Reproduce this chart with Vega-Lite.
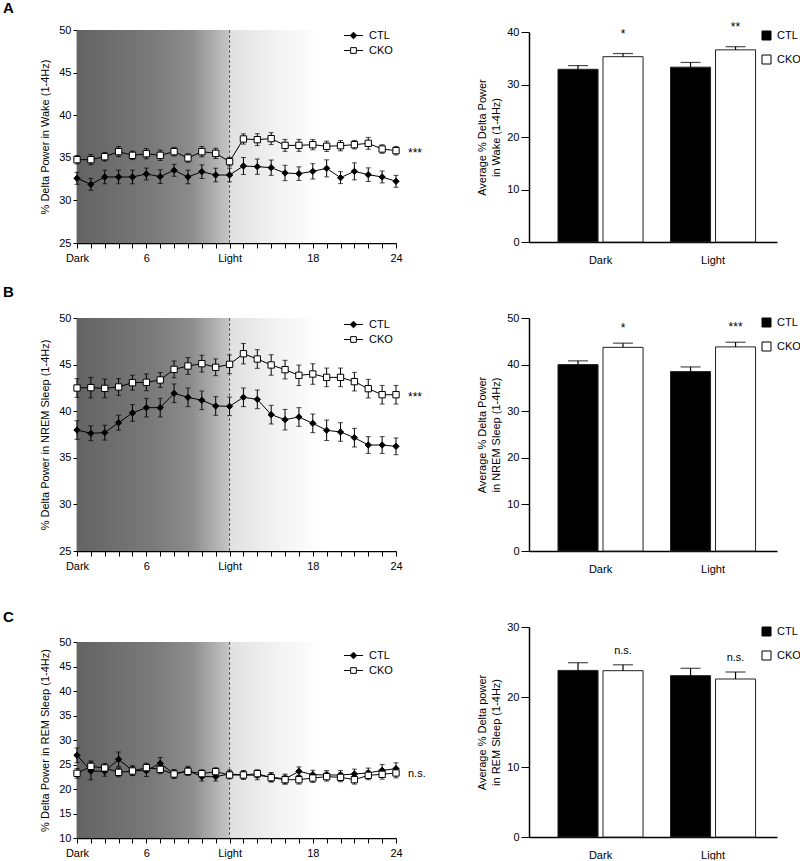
{
  "$schema": "https://vega.github.io/schema/vega-lite/v6.json",
  "padding": {"left": 3, "top": 1, "right": 0, "bottom": 0},
  "background": "white",
  "config": {
    "font": "Liberation Sans",
    "view": {"stroke": null},
    "axis": {"domainColor": "black", "tickColor": "black", "labelColor": "black", "titleColor": "black", "labelFont": "Liberation Sans", "titleFont": "Liberation Sans", "labelFontSize": 11, "titleFontSize": 11, "titleFontWeight": "normal", "grid": false, "domainWidth": 1.5, "tickWidth": 1},
    "legend": {"labelFont": "Liberation Sans", "labelFontSize": 11, "labelColor": "black", "padding": 0},
    "title": {"font": "Liberation Sans", "color": "black"}
  },
  "datasets": {
    "dark": [{"h": 1, "h2": 12}],
    "light": [{"h": 12, "h2": 24}],
    "wake": [
      {"h":1,"g":"CTL","m":32.59,"e":0.7},{"h":2,"g":"CTL","m":31.89,"e":0.7},{"h":3,"g":"CTL","m":32.75,"e":0.8},{"h":4,"g":"CTL","m":32.75,"e":0.8},{"h":5,"g":"CTL","m":32.75,"e":0.8},{"h":6,"g":"CTL","m":33.10,"e":0.7},{"h":7,"g":"CTL","m":32.79,"e":0.8},{"h":8,"g":"CTL","m":33.53,"e":0.7},{"h":9,"g":"CTL","m":32.75,"e":0.8},{"h":10,"g":"CTL","m":33.37,"e":0.8},{"h":11,"g":"CTL","m":32.98,"e":0.8},{"h":12,"g":"CTL","m":32.98,"e":0.8},
      {"h":13,"g":"CTL","m":34.04,"e":1.0},{"h":14,"g":"CTL","m":33.96,"e":0.9},{"h":15,"g":"CTL","m":33.84,"e":0.9},{"h":16,"g":"CTL","m":33.22,"e":0.9},{"h":17,"g":"CTL","m":33.14,"e":0.8},{"h":18,"g":"CTL","m":33.41,"e":0.9},{"h":19,"g":"CTL","m":33.76,"e":1.0},{"h":20,"g":"CTL","m":32.67,"e":0.7},{"h":21,"g":"CTL","m":33.41,"e":1.0},{"h":22,"g":"CTL","m":33.02,"e":0.8},{"h":23,"g":"CTL","m":32.75,"e":0.7},{"h":24,"g":"CTL","m":32.24,"e":0.7},
      {"h":1,"g":"CKO","m":34.78,"e":0.5},{"h":2,"g":"CKO","m":34.78,"e":0.6},{"h":3,"g":"CKO","m":35.13,"e":0.5},{"h":4,"g":"CKO","m":35.72,"e":0.6},{"h":5,"g":"CKO","m":35.29,"e":0.5},{"h":6,"g":"CKO","m":35.48,"e":0.6},{"h":7,"g":"CKO","m":35.29,"e":0.6},{"h":8,"g":"CKO","m":35.72,"e":0.5},{"h":9,"g":"CKO","m":34.98,"e":0.5},{"h":10,"g":"CKO","m":35.72,"e":0.6},{"h":11,"g":"CKO","m":35.52,"e":0.6},{"h":12,"g":"CKO","m":34.55,"e":0.5},
      {"h":13,"g":"CKO","m":37.21,"e":0.6},{"h":14,"g":"CKO","m":37.13,"e":0.7},{"h":15,"g":"CKO","m":37.25,"e":0.7},{"h":16,"g":"CKO","m":36.46,"e":0.7},{"h":17,"g":"CKO","m":36.46,"e":0.7},{"h":18,"g":"CKO","m":36.54,"e":0.6},{"h":19,"g":"CKO","m":36.35,"e":0.6},{"h":20,"g":"CKO","m":36.42,"e":0.6},{"h":21,"g":"CKO","m":36.54,"e":0.5},{"h":22,"g":"CKO","m":36.70,"e":0.7},{"h":23,"g":"CKO","m":36.03,"e":0.5},{"h":24,"g":"CKO","m":35.84,"e":0.5}
    ],
    "nrem": [
      {"h":1,"g":"CTL","m":37.98,"e":1.0},{"h":2,"g":"CTL","m":37.63,"e":0.8},{"h":3,"g":"CTL","m":37.70,"e":0.8},{"h":4,"g":"CTL","m":38.77,"e":0.8},{"h":5,"g":"CTL","m":39.81,"e":0.9},{"h":6,"g":"CTL","m":40.38,"e":1.0},{"h":7,"g":"CTL","m":40.38,"e":1.0},{"h":8,"g":"CTL","m":41.92,"e":1.0},{"h":9,"g":"CTL","m":41.49,"e":1.0},{"h":10,"g":"CTL","m":41.17,"e":1.0},{"h":11,"g":"CTL","m":40.56,"e":1.0},{"h":12,"g":"CTL","m":40.52,"e":1.0},
      {"h":13,"g":"CTL","m":41.49,"e":1.0},{"h":14,"g":"CTL","m":41.27,"e":1.0},{"h":15,"g":"CTL","m":39.63,"e":1.0},{"h":16,"g":"CTL","m":39.09,"e":1.1},{"h":17,"g":"CTL","m":39.38,"e":1.0},{"h":18,"g":"CTL","m":38.70,"e":1.0},{"h":19,"g":"CTL","m":37.95,"e":1.1},{"h":20,"g":"CTL","m":37.77,"e":1.0},{"h":21,"g":"CTL","m":37.16,"e":1.0},{"h":22,"g":"CTL","m":36.37,"e":0.9},{"h":23,"g":"CTL","m":36.37,"e":0.9},{"h":24,"g":"CTL","m":36.23,"e":0.9},
      {"h":1,"g":"CKO","m":42.49,"e":1.0},{"h":2,"g":"CKO","m":42.53,"e":1.1},{"h":3,"g":"CKO","m":42.45,"e":1.0},{"h":4,"g":"CKO","m":42.60,"e":0.9},{"h":5,"g":"CKO","m":43.06,"e":0.8},{"h":6,"g":"CKO","m":43.10,"e":0.9},{"h":7,"g":"CKO","m":43.35,"e":0.8},{"h":8,"g":"CKO","m":44.49,"e":0.9},{"h":9,"g":"CKO","m":44.85,"e":0.9},{"h":10,"g":"CKO","m":45.10,"e":0.9},{"h":11,"g":"CKO","m":44.71,"e":0.9},{"h":12,"g":"CKO","m":45.03,"e":1.0},
      {"h":13,"g":"CKO","m":46.17,"e":1.1},{"h":14,"g":"CKO","m":45.60,"e":1.0},{"h":15,"g":"CKO","m":44.96,"e":1.1},{"h":16,"g":"CKO","m":44.46,"e":1.0},{"h":17,"g":"CKO","m":43.85,"e":1.1},{"h":18,"g":"CKO","m":43.99,"e":1.1},{"h":19,"g":"CKO","m":43.63,"e":1.0},{"h":20,"g":"CKO","m":43.63,"e":1.0},{"h":21,"g":"CKO","m":43.17,"e":1.0},{"h":22,"g":"CKO","m":42.42,"e":1.0},{"h":23,"g":"CKO","m":41.77,"e":1.0},{"h":24,"g":"CKO","m":41.77,"e":1.0}
    ],
    "rem": [
      {"h":1,"g":"CTL","m":26.87,"e":1.5},{"h":2,"g":"CTL","m":23.67,"e":1.8},{"h":3,"g":"CTL","m":23.61,"e":1.0},{"h":4,"g":"CTL","m":26.05,"e":1.5},{"h":5,"g":"CTL","m":23.74,"e":1.0},{"h":6,"g":"CTL","m":23.74,"e":1.2},{"h":7,"g":"CTL","m":25.24,"e":1.2},{"h":8,"g":"CTL","m":23.06,"e":0.9},{"h":9,"g":"CTL","m":23.74,"e":0.9},{"h":10,"g":"CTL","m":22.52,"e":0.9},{"h":11,"g":"CTL","m":22.52,"e":0.9},{"h":12,"g":"CTL","m":23.06,"e":0.8},
      {"h":13,"g":"CTL","m":22.86,"e":0.8},{"h":14,"g":"CTL","m":22.79,"e":0.9},{"h":15,"g":"CTL","m":22.45,"e":0.9},{"h":16,"g":"CTL","m":22.04,"e":1.0},{"h":17,"g":"CTL","m":23.61,"e":0.9},{"h":18,"g":"CTL","m":22.93,"e":0.9},{"h":19,"g":"CTL","m":22.86,"e":0.9},{"h":20,"g":"CTL","m":22.86,"e":0.9},{"h":21,"g":"CTL","m":23.06,"e":1.0},{"h":22,"g":"CTL","m":23.27,"e":1.0},{"h":23,"g":"CTL","m":23.81,"e":1.2},{"h":24,"g":"CTL","m":24.15,"e":1.2},
      {"h":1,"g":"CKO","m":23.20,"e":1.0},{"h":2,"g":"CKO","m":24.63,"e":1.1},{"h":3,"g":"CKO","m":24.29,"e":0.9},{"h":4,"g":"CKO","m":23.40,"e":0.9},{"h":5,"g":"CKO","m":23.67,"e":0.9},{"h":6,"g":"CKO","m":24.35,"e":0.9},{"h":7,"g":"CKO","m":24.01,"e":0.9},{"h":8,"g":"CKO","m":23.06,"e":0.8},{"h":9,"g":"CKO","m":23.61,"e":0.8},{"h":10,"g":"CKO","m":23.13,"e":0.8},{"h":11,"g":"CKO","m":23.54,"e":0.8},{"h":12,"g":"CKO","m":22.86,"e":0.8},
      {"h":13,"g":"CKO","m":22.86,"e":0.9},{"h":14,"g":"CKO","m":23.13,"e":0.8},{"h":15,"g":"CKO","m":22.31,"e":0.9},{"h":16,"g":"CKO","m":21.90,"e":0.9},{"h":17,"g":"CKO","m":21.90,"e":0.9},{"h":18,"g":"CKO","m":22.24,"e":0.9},{"h":19,"g":"CKO","m":22.52,"e":0.9},{"h":20,"g":"CKO","m":22.38,"e":0.9},{"h":21,"g":"CKO","m":21.90,"e":0.9},{"h":22,"g":"CKO","m":22.79,"e":0.9},{"h":23,"g":"CKO","m":23.00,"e":1.0},{"h":24,"g":"CKO","m":23.27,"e":1.0}
    ],
    "wakeBar": [
      {"phase":"Dark","g":"CTL","m":32.9,"hi":33.6,"sig":""},{"phase":"Dark","g":"CKO","m":35.3,"hi":35.9,"sig":"*"},
      {"phase":"Light","g":"CTL","m":33.3,"hi":34.2,"sig":""},{"phase":"Light","g":"CKO","m":36.6,"hi":37.2,"sig":"**"}
    ],
    "nremBar": [
      {"phase":"Dark","g":"CTL","m":40.0,"hi":40.8,"sig":""},{"phase":"Dark","g":"CKO","m":43.7,"hi":44.6,"sig":"*"},
      {"phase":"Light","g":"CTL","m":38.5,"hi":39.5,"sig":""},{"phase":"Light","g":"CKO","m":43.8,"hi":44.8,"sig":"***"}
    ],
    "remBar": [
      {"phase":"Dark","g":"CTL","m":23.8,"hi":24.9,"sig":""},{"phase":"Dark","g":"CKO","m":23.76,"hi":24.6,"sig":"n.s."},
      {"phase":"Light","g":"CTL","m":23.05,"hi":24.1,"sig":""},{"phase":"Light","g":"CKO","m":22.57,"hi":23.57,"sig":"n.s."}
    ]
  },
  "bounds": "flush",
  "columns": 2,
  "spacing": {"row": 75, "column": 133},
  "resolve": {"scale": {"fill": "independent", "shape": "independent", "stroke": "independent", "xOffset": "independent"}},
  "concat": [
    {
      "width": 319, "height": 213,
      "title": {"text": "A", "anchor": "start", "frame": "group", "dx": -74, "dy": 4, "fontSize": 15, "fontWeight": "bold", "baseline": "alphabetic", "offset": 0},
      "layer": [
        {"data": {"name": "dark"}, "mark": {"type": "rect", "fill": {"gradient": "linear", "stops": [{"offset": 0, "color": "#636363"}, {"offset": 0.5, "color": "#7a7a7a"}, {"offset": 0.75, "color": "#8c8c8c"}, {"offset": 1, "color": "#c6c6c6"}]}},
         "encoding": {"x": {"field": "h", "type": "quantitative", "scale": {"domain": [1, 24], "nice": false, "zero": false}}, "x2": {"field": "h2"}, "y": {"datum": 50, "type": "quantitative", "scale": {"domain": [25, 50], "nice": false, "zero": false}, "title": "% Delta Power in Wake  (1-4Hz)"}, "y2": {"datum": 25}}},
        {"data": {"name": "light"}, "mark": {"type": "rect", "fill": {"gradient": "linear", "stops": [{"offset": 0, "color": "#e0e0e0"}, {"offset": 0.3, "color": "#f3f3f3"}, {"offset": 0.55, "color": "#ffffff"}, {"offset": 1, "color": "#ffffff"}]}},
         "encoding": {"x": {"field": "h", "type": "quantitative"}, "x2": {"field": "h2"}, "y": {"datum": 50, "type": "quantitative", "title": "% Delta Power in Wake  (1-4Hz)"}, "y2": {"datum": 25}}},
        {"data": {"name": "light"}, "mark": {"type": "rule", "color": "#555555", "strokeDash": [3, 2], "strokeWidth": 1},
         "encoding": {"x": {"field": "h", "type": "quantitative"}, "y": {"datum": 50, "type": "quantitative", "title": "% Delta Power in Wake  (1-4Hz)"}, "y2": {"datum": 25}}},
        {"data": {"name": "wake"}, "mark": {"type": "errorbar", "color": "black", "ticks": {"size": 5, "thickness": 1}, "thickness": 1},
         "encoding": {"x": {"field": "h", "type": "quantitative"}, "y": {"field": "m", "type": "quantitative", "title": "% Delta Power in Wake  (1-4Hz)"}, "yError": {"field": "e"}, "detail": {"field": "g"}}},
        {"data": {"name": "wake"}, "mark": {"type": "line", "color": "black", "strokeWidth": 1},
         "encoding": {"x": {"field": "h", "type": "quantitative"}, "y": {"field": "m", "type": "quantitative", "title": "% Delta Power in Wake  (1-4Hz)"}, "detail": {"field": "g"}}},
        {"data": {"name": "wake"}, "transform": [{"filter": "datum.g == 'CTL'"}], "mark": {"type": "point", "shape": "diamond", "filled": true, "fill": "black", "stroke": "black", "opacity": 1, "strokeWidth": 1, "size": 40},
         "encoding": {
           "x": {"field": "h", "type": "quantitative", "axis": {"title": null, "values": [1,2,3,4,5,6,7,8,9,10,11,12,13,14,15,16,17,18,19,20,21,22,23,24], "tickCount": 40, "format": "d", "labelExpr": "datum.value == 1 ? 'Dark' : datum.value == 12 ? 'Light' : (datum.value == 6 || datum.value == 18 || datum.value == 24) ? datum.label : ''", "tickSize": 5, "labelPadding": 4, "labelOverlap": false, "labelFlush": false, "labelBound": false}},
           "y": {"field": "m", "type": "quantitative", "title": "% Delta Power in Wake  (1-4Hz)", "axis": {"values": [25, 30, 35, 40, 45, 50], "tickCount": 40, "format": "d", "tickSize": 4, "labelPadding": 2, "titlePadding": 8}}
         }},
        {"data": {"name": "wake"}, "transform": [{"filter": "datum.g == 'CKO'"}], "mark": {"type": "point", "shape": "square", "filled": true, "fill": "white", "stroke": "black", "opacity": 1, "strokeWidth": 1, "size": 40},
         "encoding": {"x": {"field": "h", "type": "quantitative"}, "y": {"field": "m", "type": "quantitative", "title": "% Delta Power in Wake  (1-4Hz)"}}},
        {"data": {"name": "wake"}, "transform": [{"filter": "datum.h < 0"}], "mark": {"type": "point", "filled": true, "opacity": 1, "strokeWidth": 1},
         "encoding": {
           "x": {"field": "h", "type": "quantitative"}, "y": {"field": "m", "type": "quantitative", "title": "% Delta Power in Wake  (1-4Hz)"},
           "shape": {"field": "g", "type": "nominal", "scale": {"domain": ["CTL", "CKO"], "range": ["M-2,0H2M0,-0.7L0.7,0L0,0.7L-0.7,0Z", "M-2,0H-0.6M0.6,0H2M-0.6,-0.6H0.6V0.6H-0.6Z"]},
             "legend": {"orient": "none", "legendX": 271, "legendY": 0, "title": null, "symbolSize": 90, "labelOffset": 10, "rowPadding": 3, "symbolStrokeWidth": 1}},
           "fill": {"field": "g", "type": "nominal", "scale": {"domain": ["CTL", "CKO"], "range": ["black", "white"]},
             "legend": {"orient": "none", "legendX": 271, "legendY": 0, "title": null, "symbolSize": 90, "labelOffset": 10, "rowPadding": 3, "symbolStrokeWidth": 1}},
           "stroke": {"field": "g", "type": "nominal", "scale": {"domain": ["CTL", "CKO"], "range": ["black", "black"]},
             "legend": {"orient": "none", "legendX": 271, "legendY": 0, "title": null, "symbolSize": 90, "labelOffset": 10, "rowPadding": 3, "symbolStrokeWidth": 1}}
         }},
        {"data": {"name": "wake"}, "transform": [{"filter": "datum.h == 24 && datum.g == 'CKO'"}], "mark": {"type": "text", "text": "***", "align": "left", "baseline": "alphabetic", "dx": 12, "dy": 6, "fontSize": 12, "color": "black"},
         "encoding": {"x": {"field": "h", "type": "quantitative"}, "y": {"field": "m", "type": "quantitative", "title": "% Delta Power in Wake  (1-4Hz)"}}}
      ]
    },
    {
      "width": 248, "height": 212,
      "data": {"name": "wakeBar"},
      "layer": [
        {"mark": {"type": "bar", "stroke": "#222222", "strokeWidth": 1},
         "encoding": {
           "x": {"field": "phase", "type": "nominal", "sort": ["Dark", "Light"], "scale": {"paddingInner": 0.244, "paddingOuter": 0.224, "align": 0.575}, "axis": {"title": null, "labelAngle": 0, "ticks": false, "labelPadding": 12}},
           "xOffset": {"field": "g", "type": "nominal", "sort": ["CTL", "CKO"], "scale": {"paddingInner": 0.11, "paddingOuter": 0}},
           "y": {"field": "m", "type": "quantitative", "scale": {"domain": [0, 40], "nice": false, "range": [212, 2]}, "title": ["Average % Delta Power", "in Wake  (1-4Hz)"], "axis": {"values": [0, 10, 20, 30, 40], "tickCount": 20, "format": "d", "tickSize": 8, "labelPadding": 2, "titlePadding": 5, "titleLineHeight": 14}},
           "fill": {"field": "g", "type": "nominal", "sort": ["CTL", "CKO"], "scale": {"domain": ["CTL", "CKO"], "range": ["black", "white"]},
             "legend": {"orient": "none", "legendX": 232, "legendY": 0, "title": null, "symbolType": "square", "symbolSize": 81, "symbolStrokeColor": "black", "symbolStrokeWidth": 1, "labelOffset": 5, "rowPadding": 11}}
         }},
        {"mark": {"type": "rule", "color": "black", "strokeWidth": 1.2},
         "encoding": {"x": {"field": "phase", "type": "nominal", "sort": ["Dark", "Light"]}, "xOffset": {"field": "g", "type": "nominal", "sort": ["CTL", "CKO"]}, "y": {"field": "m", "type": "quantitative", "title": ["Average % Delta Power", "in Wake  (1-4Hz)"]}, "y2": {"field": "hi"}}},
        {"mark": {"type": "tick", "orient": "horizontal", "color": "black", "size": 20, "thickness": 1.2},
         "encoding": {"x": {"field": "phase", "type": "nominal", "sort": ["Dark", "Light"]}, "xOffset": {"field": "g", "type": "nominal", "sort": ["CTL", "CKO"]}, "y": {"field": "hi", "type": "quantitative", "title": ["Average % Delta Power", "in Wake  (1-4Hz)"]}}},
        {"mark": {"type": "text", "baseline": "alphabetic", "dy": -16, "fontSize": 12, "color": "black"},
         "encoding": {"x": {"field": "phase", "type": "nominal", "sort": ["Dark", "Light"]}, "xOffset": {"field": "g", "type": "nominal", "sort": ["CTL", "CKO"]}, "y": {"field": "hi", "type": "quantitative", "title": ["Average % Delta Power", "in Wake  (1-4Hz)"]}, "text": {"field": "sig"}}}
      ]
    },
    {
      "width": 319, "height": 233,
      "title": {"text": "B", "anchor": "start", "frame": "group", "dx": -74, "dy": 0, "fontSize": 15, "fontWeight": "bold", "baseline": "alphabetic", "offset": 0},
      "layer": [
        {"data": {"name": "dark"}, "mark": {"type": "rect", "fill": {"gradient": "linear", "stops": [{"offset": 0, "color": "#636363"}, {"offset": 0.5, "color": "#7a7a7a"}, {"offset": 0.75, "color": "#8c8c8c"}, {"offset": 1, "color": "#c6c6c6"}]}},
         "encoding": {"x": {"field": "h", "type": "quantitative", "scale": {"domain": [1, 24], "nice": false, "zero": false}}, "x2": {"field": "h2"}, "y": {"datum": 50, "type": "quantitative", "scale": {"domain": [25, 50], "nice": false, "zero": false}, "title": "% Delta Power in NREM Sleep (1-4Hz)"}, "y2": {"datum": 25}}},
        {"data": {"name": "light"}, "mark": {"type": "rect", "fill": {"gradient": "linear", "stops": [{"offset": 0, "color": "#e0e0e0"}, {"offset": 0.3, "color": "#f3f3f3"}, {"offset": 0.55, "color": "#ffffff"}, {"offset": 1, "color": "#ffffff"}]}},
         "encoding": {"x": {"field": "h", "type": "quantitative"}, "x2": {"field": "h2"}, "y": {"datum": 50, "type": "quantitative", "title": "% Delta Power in NREM Sleep (1-4Hz)"}, "y2": {"datum": 25}}},
        {"data": {"name": "light"}, "mark": {"type": "rule", "color": "#555555", "strokeDash": [3, 2], "strokeWidth": 1},
         "encoding": {"x": {"field": "h", "type": "quantitative"}, "y": {"datum": 50, "type": "quantitative", "title": "% Delta Power in NREM Sleep (1-4Hz)"}, "y2": {"datum": 25}}},
        {"data": {"name": "nrem"}, "mark": {"type": "errorbar", "color": "black", "ticks": {"size": 5, "thickness": 1}, "thickness": 1},
         "encoding": {"x": {"field": "h", "type": "quantitative"}, "y": {"field": "m", "type": "quantitative", "title": "% Delta Power in NREM Sleep (1-4Hz)"}, "yError": {"field": "e"}, "detail": {"field": "g"}}},
        {"data": {"name": "nrem"}, "mark": {"type": "line", "color": "black", "strokeWidth": 1},
         "encoding": {"x": {"field": "h", "type": "quantitative"}, "y": {"field": "m", "type": "quantitative", "title": "% Delta Power in NREM Sleep (1-4Hz)"}, "detail": {"field": "g"}}},
        {"data": {"name": "nrem"}, "transform": [{"filter": "datum.g == 'CTL'"}], "mark": {"type": "point", "shape": "diamond", "filled": true, "fill": "black", "stroke": "black", "opacity": 1, "strokeWidth": 1, "size": 40},
         "encoding": {
           "x": {"field": "h", "type": "quantitative", "axis": {"title": null, "values": [1,2,3,4,5,6,7,8,9,10,11,12,13,14,15,16,17,18,19,20,21,22,23,24], "tickCount": 40, "format": "d", "labelExpr": "datum.value == 1 ? 'Dark' : datum.value == 12 ? 'Light' : (datum.value == 6 || datum.value == 18 || datum.value == 24) ? datum.label : ''", "tickSize": 5, "labelPadding": 4, "labelOverlap": false, "labelFlush": false, "labelBound": false}},
           "y": {"field": "m", "type": "quantitative", "title": "% Delta Power in NREM Sleep (1-4Hz)", "axis": {"values": [25, 30, 35, 40, 45, 50], "tickCount": 40, "format": "d", "tickSize": 4, "labelPadding": 2, "titlePadding": 8}}
         }},
        {"data": {"name": "nrem"}, "transform": [{"filter": "datum.g == 'CKO'"}], "mark": {"type": "point", "shape": "square", "filled": true, "fill": "white", "stroke": "black", "opacity": 1, "strokeWidth": 1, "size": 40},
         "encoding": {"x": {"field": "h", "type": "quantitative"}, "y": {"field": "m", "type": "quantitative", "title": "% Delta Power in NREM Sleep (1-4Hz)"}}},
        {"data": {"name": "nrem"}, "transform": [{"filter": "datum.h < 0"}], "mark": {"type": "point", "filled": true, "opacity": 1, "strokeWidth": 1},
         "encoding": {
           "x": {"field": "h", "type": "quantitative"}, "y": {"field": "m", "type": "quantitative", "title": "% Delta Power in NREM Sleep (1-4Hz)"},
           "shape": {"field": "g", "type": "nominal", "scale": {"domain": ["CTL", "CKO"], "range": ["M-2,0H2M0,-0.7L0.7,0L0,0.7L-0.7,0Z", "M-2,0H-0.6M0.6,0H2M-0.6,-0.6H0.6V0.6H-0.6Z"]},
             "legend": {"orient": "none", "legendX": 271, "legendY": 1, "title": null, "symbolSize": 90, "labelOffset": 10, "rowPadding": 3, "symbolStrokeWidth": 1}},
           "fill": {"field": "g", "type": "nominal", "scale": {"domain": ["CTL", "CKO"], "range": ["black", "white"]},
             "legend": {"orient": "none", "legendX": 271, "legendY": 1, "title": null, "symbolSize": 90, "labelOffset": 10, "rowPadding": 3, "symbolStrokeWidth": 1}},
           "stroke": {"field": "g", "type": "nominal", "scale": {"domain": ["CTL", "CKO"], "range": ["black", "black"]},
             "legend": {"orient": "none", "legendX": 271, "legendY": 1, "title": null, "symbolSize": 90, "labelOffset": 10, "rowPadding": 3, "symbolStrokeWidth": 1}}
         }},
        {"data": {"name": "nrem"}, "transform": [{"filter": "datum.h == 24 && datum.g == 'CKO'"}], "mark": {"type": "text", "text": "***", "align": "left", "baseline": "alphabetic", "dx": 12, "dy": 6, "fontSize": 12, "color": "black"},
         "encoding": {"x": {"field": "h", "type": "quantitative"}, "y": {"field": "m", "type": "quantitative", "title": "% Delta Power in NREM Sleep (1-4Hz)"}}}
      ]
    },
    {
      "width": 248, "height": 233,
      "data": {"name": "nremBar"},
      "layer": [
        {"mark": {"type": "bar", "stroke": "#222222", "strokeWidth": 1},
         "encoding": {
           "x": {"field": "phase", "type": "nominal", "sort": ["Dark", "Light"], "scale": {"paddingInner": 0.244, "paddingOuter": 0.224, "align": 0.575}, "axis": {"title": null, "labelAngle": 0, "ticks": false, "labelPadding": 12}},
           "xOffset": {"field": "g", "type": "nominal", "sort": ["CTL", "CKO"], "scale": {"paddingInner": 0.11, "paddingOuter": 0}},
           "y": {"field": "m", "type": "quantitative", "scale": {"domain": [0, 50], "nice": false}, "title": ["Average % Delta Power", "in NREM Sleep (1-4Hz)"], "axis": {"values": [0, 10, 20, 30, 40, 50], "tickCount": 20, "format": "d", "tickSize": 8, "labelPadding": 2, "titlePadding": 5, "titleLineHeight": 14}},
           "fill": {"field": "g", "type": "nominal", "sort": ["CTL", "CKO"], "scale": {"domain": ["CTL", "CKO"], "range": ["black", "white"]},
             "legend": {"orient": "none", "legendX": 232, "legendY": -1, "title": null, "symbolType": "square", "symbolSize": 81, "symbolStrokeColor": "black", "symbolStrokeWidth": 1, "labelOffset": 5, "rowPadding": 11}}
         }},
        {"mark": {"type": "rule", "color": "black", "strokeWidth": 1.2},
         "encoding": {"x": {"field": "phase", "type": "nominal", "sort": ["Dark", "Light"]}, "xOffset": {"field": "g", "type": "nominal", "sort": ["CTL", "CKO"]}, "y": {"field": "m", "type": "quantitative", "title": ["Average % Delta Power", "in NREM Sleep (1-4Hz)"]}, "y2": {"field": "hi"}}},
        {"mark": {"type": "tick", "orient": "horizontal", "color": "black", "size": 20, "thickness": 1.2},
         "encoding": {"x": {"field": "phase", "type": "nominal", "sort": ["Dark", "Light"]}, "xOffset": {"field": "g", "type": "nominal", "sort": ["CTL", "CKO"]}, "y": {"field": "hi", "type": "quantitative", "title": ["Average % Delta Power", "in NREM Sleep (1-4Hz)"]}}},
        {"mark": {"type": "text", "baseline": "alphabetic", "dy": -11, "fontSize": 12, "color": "black"},
         "encoding": {"x": {"field": "phase", "type": "nominal", "sort": ["Dark", "Light"]}, "xOffset": {"field": "g", "type": "nominal", "sort": ["CTL", "CKO"]}, "y": {"field": "hi", "type": "quantitative", "title": ["Average % Delta Power", "in NREM Sleep (1-4Hz)"]}, "text": {"field": "sig"}}}
      ]
    },
    {
      "width": 319, "height": 212,
      "title": {"text": "C", "anchor": "start", "frame": "group", "dx": -74, "dy": 11, "fontSize": 15, "fontWeight": "bold", "baseline": "alphabetic", "offset": 0},
      "layer": [
        {"data": {"name": "dark"}, "mark": {"type": "rect", "fill": {"gradient": "linear", "stops": [{"offset": 0, "color": "#636363"}, {"offset": 0.5, "color": "#7a7a7a"}, {"offset": 0.75, "color": "#8c8c8c"}, {"offset": 1, "color": "#c6c6c6"}]}},
         "encoding": {"x": {"field": "h", "type": "quantitative", "scale": {"domain": [1, 24], "nice": false, "zero": false}}, "x2": {"field": "h2"}, "y": {"datum": 50, "type": "quantitative", "scale": {"domain": [10, 50], "nice": false, "zero": false, "range": [212, 16]}, "title": "% Delta Power in REM Sleep (1-4Hz)"}, "y2": {"datum": 10}}},
        {"data": {"name": "light"}, "mark": {"type": "rect", "fill": {"gradient": "linear", "stops": [{"offset": 0, "color": "#e0e0e0"}, {"offset": 0.3, "color": "#f3f3f3"}, {"offset": 0.55, "color": "#ffffff"}, {"offset": 1, "color": "#ffffff"}]}},
         "encoding": {"x": {"field": "h", "type": "quantitative"}, "x2": {"field": "h2"}, "y": {"datum": 50, "type": "quantitative", "title": "% Delta Power in REM Sleep (1-4Hz)"}, "y2": {"datum": 10}}},
        {"data": {"name": "light"}, "mark": {"type": "rule", "color": "#555555", "strokeDash": [3, 2], "strokeWidth": 1},
         "encoding": {"x": {"field": "h", "type": "quantitative"}, "y": {"datum": 50, "type": "quantitative", "title": "% Delta Power in REM Sleep (1-4Hz)"}, "y2": {"datum": 10}}},
        {"data": {"name": "rem"}, "mark": {"type": "errorbar", "color": "black", "ticks": {"size": 5, "thickness": 1}, "thickness": 1},
         "encoding": {"x": {"field": "h", "type": "quantitative"}, "y": {"field": "m", "type": "quantitative", "title": "% Delta Power in REM Sleep (1-4Hz)"}, "yError": {"field": "e"}, "detail": {"field": "g"}}},
        {"data": {"name": "rem"}, "mark": {"type": "line", "color": "black", "strokeWidth": 1},
         "encoding": {"x": {"field": "h", "type": "quantitative"}, "y": {"field": "m", "type": "quantitative", "title": "% Delta Power in REM Sleep (1-4Hz)"}, "detail": {"field": "g"}}},
        {"data": {"name": "rem"}, "transform": [{"filter": "datum.g == 'CTL'"}], "mark": {"type": "point", "shape": "diamond", "filled": true, "fill": "black", "stroke": "black", "opacity": 1, "strokeWidth": 1, "size": 40},
         "encoding": {
           "x": {"field": "h", "type": "quantitative", "axis": {"title": null, "values": [1,2,3,4,5,6,7,8,9,10,11,12,13,14,15,16,17,18,19,20,21,22,23,24], "tickCount": 40, "format": "d", "labelExpr": "datum.value == 1 ? 'Dark' : datum.value == 12 ? 'Light' : (datum.value == 6 || datum.value == 18 || datum.value == 24) ? datum.label : ''", "tickSize": 5, "labelPadding": 4, "labelOverlap": false, "labelFlush": false, "labelBound": false}},
           "y": {"field": "m", "type": "quantitative", "title": "% Delta Power in REM Sleep (1-4Hz)", "axis": {"values": [10, 15, 20, 25, 30, 35, 40, 45, 50], "tickCount": 40, "format": "d", "tickSize": 4, "labelPadding": 2, "titlePadding": 8}}
         }},
        {"data": {"name": "rem"}, "transform": [{"filter": "datum.g == 'CKO'"}], "mark": {"type": "point", "shape": "square", "filled": true, "fill": "white", "stroke": "black", "opacity": 1, "strokeWidth": 1, "size": 40},
         "encoding": {"x": {"field": "h", "type": "quantitative"}, "y": {"field": "m", "type": "quantitative", "title": "% Delta Power in REM Sleep (1-4Hz)"}}},
        {"data": {"name": "rem"}, "transform": [{"filter": "datum.h < 0"}], "mark": {"type": "point", "filled": true, "opacity": 1, "strokeWidth": 1},
         "encoding": {
           "x": {"field": "h", "type": "quantitative"}, "y": {"field": "m", "type": "quantitative", "title": "% Delta Power in REM Sleep (1-4Hz)"},
           "shape": {"field": "g", "type": "nominal", "scale": {"domain": ["CTL", "CKO"], "range": ["M-2,0H2M0,-0.7L0.7,0L0,0.7L-0.7,0Z", "M-2,0H-0.6M0.6,0H2M-0.6,-0.6H0.6V0.6H-0.6Z"]},
             "legend": {"orient": "none", "legendX": 271, "legendY": 24, "title": null, "symbolSize": 90, "labelOffset": 10, "rowPadding": 3, "symbolStrokeWidth": 1}},
           "fill": {"field": "g", "type": "nominal", "scale": {"domain": ["CTL", "CKO"], "range": ["black", "white"]},
             "legend": {"orient": "none", "legendX": 271, "legendY": 24, "title": null, "symbolSize": 90, "labelOffset": 10, "rowPadding": 3, "symbolStrokeWidth": 1}},
           "stroke": {"field": "g", "type": "nominal", "scale": {"domain": ["CTL", "CKO"], "range": ["black", "black"]},
             "legend": {"orient": "none", "legendX": 271, "legendY": 24, "title": null, "symbolSize": 90, "labelOffset": 10, "rowPadding": 3, "symbolStrokeWidth": 1}}
         }},
        {"data": {"name": "rem"}, "transform": [{"filter": "datum.h == 24 && datum.g == 'CKO'"}], "mark": {"type": "text", "text": "n.s.", "align": "left", "baseline": "alphabetic", "dx": 12, "dy": 4, "fontSize": 11, "color": "black"},
         "encoding": {"x": {"field": "h", "type": "quantitative"}, "y": {"field": "m", "type": "quantitative", "title": "% Delta Power in REM Sleep (1-4Hz)"}}}
      ]
    },
    {
      "width": 248, "height": 211,
      "data": {"name": "remBar"},
      "layer": [
        {"mark": {"type": "bar", "stroke": "#222222", "strokeWidth": 1},
         "encoding": {
           "x": {"field": "phase", "type": "nominal", "sort": ["Dark", "Light"], "scale": {"paddingInner": 0.244, "paddingOuter": 0.224, "align": 0.575}, "axis": {"title": null, "labelAngle": 0, "ticks": false, "labelPadding": 12}},
           "xOffset": {"field": "g", "type": "nominal", "sort": ["CTL", "CKO"], "scale": {"paddingInner": 0.11, "paddingOuter": 0}},
           "y": {"field": "m", "type": "quantitative", "scale": {"domain": [0, 30], "nice": false, "range": [211, 1]}, "title": ["Average % Delta power", "in REM Sleep (1-4Hz)"], "axis": {"values": [0, 10, 20, 30], "tickCount": 20, "format": "d", "tickSize": 8, "labelPadding": 2, "titlePadding": 5, "titleLineHeight": 14}},
           "fill": {"field": "g", "type": "nominal", "sort": ["CTL", "CKO"], "scale": {"domain": ["CTL", "CKO"], "range": ["black", "white"]},
             "legend": {"orient": "none", "legendX": 232, "legendY": 0, "title": null, "symbolType": "square", "symbolSize": 81, "symbolStrokeColor": "black", "symbolStrokeWidth": 1, "labelOffset": 5, "rowPadding": 11}}
         }},
        {"mark": {"type": "rule", "color": "black", "strokeWidth": 1.2},
         "encoding": {"x": {"field": "phase", "type": "nominal", "sort": ["Dark", "Light"]}, "xOffset": {"field": "g", "type": "nominal", "sort": ["CTL", "CKO"]}, "y": {"field": "m", "type": "quantitative", "title": ["Average % Delta power", "in REM Sleep (1-4Hz)"]}, "y2": {"field": "hi"}}},
        {"mark": {"type": "tick", "orient": "horizontal", "color": "black", "size": 20, "thickness": 1.2},
         "encoding": {"x": {"field": "phase", "type": "nominal", "sort": ["Dark", "Light"]}, "xOffset": {"field": "g", "type": "nominal", "sort": ["CTL", "CKO"]}, "y": {"field": "hi", "type": "quantitative", "title": ["Average % Delta power", "in REM Sleep (1-4Hz)"]}}},
        {"mark": {"type": "text", "baseline": "alphabetic", "dy": -11, "fontSize": 11, "color": "black"},
         "encoding": {"x": {"field": "phase", "type": "nominal", "sort": ["Dark", "Light"]}, "xOffset": {"field": "g", "type": "nominal", "sort": ["CTL", "CKO"]}, "y": {"field": "hi", "type": "quantitative", "title": ["Average % Delta power", "in REM Sleep (1-4Hz)"]}, "text": {"field": "sig"}}}
      ]
    }
  ]
}
